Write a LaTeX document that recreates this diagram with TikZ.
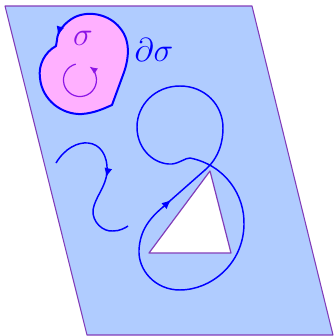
\documentclass[tikz,border=0pt]{standalone}
\usetikzlibrary{arrows.meta,decorations.markings}
\definecolor{plane}{RGB}{176,204,255}
\definecolor{pinkfill}{RGB}{255,176,255}
\definecolor{edgepurple}{RGB}{130,60,185}
\definecolor{sigpurple}{RGB}{140,20,230}
\tikzset{
  planeface/.style={fill=plane,draw=edgepurple,line width=0.8pt,line join=round},
  hole/.style={fill=white,draw=edgepurple,line width=0.9pt,line join=round},
  blobline/.style={fill=pinkfill,draw=blue,line width=1.5pt,line join=round},
  curveline/.style={draw=blue,line width=1.1pt},
  midarrow/.style={postaction={decorate},decoration={markings,mark=at position #1 with {\arrow{Latex[length=7pt,width=6pt]}}}},
}
\begin{document}
\begin{tikzpicture}[x=0.75pt,y=-0.75pt]
\useasboundingbox (0,0) rectangle (334,336);
% plane
\path[planeface] (5,6) -- (252,6) -- (333,335) -- (87,335) -- cycle;
% pink region with boundary
\path[blobline,midarrow=0.965] (56,46) .. controls (45,52) and (38,65) .. (40,78)
  .. controls (42,100) and (62,115) .. (82,114)
  .. controls (95,113) and (105,108) .. (112,105) -- (123,75)
  .. controls (128,62) and (132,42) .. (120,28)
  .. controls (110,15) and (90,10) .. (75,17)
  .. controls (65,22) and (57,32) .. (57,40) -- cycle;
\node[text=sigpurple,font=\fontsize{26}{31}\selectfont] (sig) at (83,38) {$\sigma$};
\node[text=blue,font=\fontsize{27}{32}\selectfont] (dsig) at (154,50) {$\partial\sigma$};
% orientation circle
\draw[sigpurple,line width=0.9pt,-{Latex[length=6pt,width=5pt]}] (75.7,64.1) arc[start angle=255, end angle=-55, radius=16.5];
% open wiggly curve
\draw[curveline,midarrow=0.5] (56,163) .. controls (65,148) and (78,142) .. (88,143)
  .. controls (100,144) and (108,155) .. (107,172)
  .. controls (106,187) and (95,197) .. (93,210)
  .. controls (92,222) and (103,232) .. (113,231)
  .. controls (120,231) and (125,228) .. (128,226);
% triangle hole
\path[hole] (149,253) -- (210,171) -- (231,253) -- cycle;
% closed loop
\draw[curveline,midarrow=0.515] (190,158) .. controls (225,165) and (245,195) .. (244,225)
  .. controls (243,265) and (210,290) .. (180,290)
  .. controls (155,290) and (138,270) .. (139,250)
  .. controls (140,230) and (150,218) .. (163,207) -- (205,170)
  .. controls (220,157) and (223,140) .. (223,128)
  .. controls (223,105) and (205,86) .. (180,86)
  .. controls (155,86) and (137,105) .. (137,127)
  .. controls (137,150) and (155,165) .. (172,164)
  .. controls (180,163) and (185,158) .. (190,158);
\end{tikzpicture}
\end{document}
